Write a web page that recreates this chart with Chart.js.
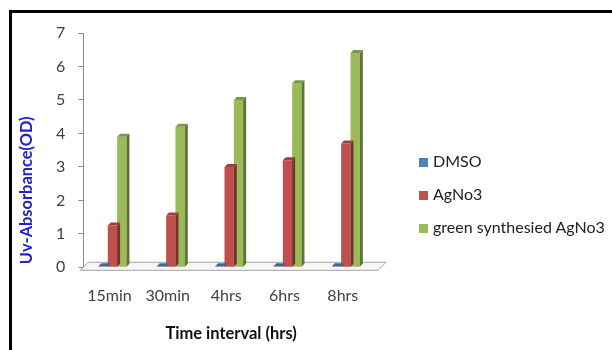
<!DOCTYPE html>
<html>
<head>
<meta charset="utf-8">
<script src="https://cdn.jsdelivr.net/npm/chart.js@4.4.1/dist/chart.umd.min.js"></script>
<style>
  html, body { margin: 0; padding: 0; background: #fff; }
  #wrap { position: relative; width: 612px; height: 350px; overflow: hidden; }
  #frame { position: absolute; left: 9px; top: 10px; width: 620px; height: 360px;
           border-left: 3px solid #000; border-top: 3px solid #000; pointer-events: none; }
  canvas { position: absolute; left: 0; top: 0; }
  #legend { position: absolute; left: 419px; top: 151px; margin: 0; padding: 0; list-style: none;
            font-family: Lato, "Open Sans", sans-serif; font-size: 16px; color: #222; }
  #legend li { height: 33px; line-height: 20px; white-space: nowrap; }
  #legend span.box { display: inline-block; width: 9px; height: 9px; margin-right: 5px;
                     vertical-align: 0px; }
</style>
</head>
<body>
<div id="wrap">
  <canvas id="c" width="612" height="350"></canvas>
  <ul id="legend"></ul>
  <div id="frame"></div>
</div>
<script>
// Absorbance readings per time interval
const categories = ['15min', '30min', '4hrs', '6hrs', '8hrs'];
const dmso = [0.03, 0.03, 0.03, 0.03, 0.03];
const agno3 = [1.25, 1.55, 3.0, 3.2, 3.7];
const greenAgno3 = [3.9, 4.2, 5.0, 5.5, 6.4];
const yTicks = [0, 1, 2, 3, 4, 5, 6, 7];

const FONT = 'Lato, "Open Sans", sans-serif';
const Y_TITLE = 'Uv-Absorbance(OD)';
const X_TITLE = 'Time interval (hrs)';

function shade(hex, f) {
  const n = parseInt(hex.slice(1), 16);
  let r = (n >> 16) & 255, g = (n >> 8) & 255, b = n & 255;
  if (f < 0) { r *= 1 + f; g *= 1 + f; b *= 1 + f; }
  else { r += (255 - r) * f; g += (255 - g) * f; b += (255 - b) * f; }
  return 'rgb(' + Math.round(r) + ',' + Math.round(g) + ',' + Math.round(b) + ')';
}

// Floor slab under the bars, drawn before the datasets
const floorPlugin = {
  id: 'floor',
  beforeDatasetsDraw(chart) {
    const { ctx, chartArea } = chart;
    const y0 = chart.scales.y.getPixelForValue(0) + 3;
    const l = chartArea.left - 3, r = chartArea.right + 3;
    const dx = 8, dy = -8;
    ctx.save();
    ctx.beginPath();
    ctx.moveTo(l, y0);
    ctx.lineTo(r, y0);
    ctx.lineTo(r + dx, y0 + dy);
    ctx.lineTo(l + dx, y0 + dy);
    ctx.closePath();
    ctx.fillStyle = '#f6f6f6';
    ctx.fill();
    ctx.strokeStyle = '#a6a6a6';
    ctx.lineWidth = 1;
    ctx.stroke();
    ctx.restore();
  }
};

// Side and top faces that give each bar its depth
const depthPlugin = {
  id: 'depth',
  afterDatasetsDraw(chart) {
    const { ctx } = chart;
    const dx = 3, dy = -3;
    chart.data.datasets.forEach((ds, i) => {
      const meta = chart.getDatasetMeta(i);
      if (meta.hidden) return;
      meta.data.forEach(bar => {
        const half = bar.width / 2;
        const x1 = bar.x - half, x2 = bar.x + half;
        const top = bar.y, base = bar.base;
        ctx.save();
        ctx.fillStyle = shade(ds.backgroundColor, -0.38);
        ctx.beginPath();
        ctx.moveTo(x2, base);
        ctx.lineTo(x2 + dx, base + dy);
        ctx.lineTo(x2 + dx, top + dy);
        ctx.lineTo(x2, top);
        ctx.closePath();
        ctx.fill();
        ctx.fillStyle = shade(ds.backgroundColor, -0.2);
        ctx.beginPath();
        ctx.moveTo(x1, top);
        ctx.lineTo(x2, top);
        ctx.lineTo(x2 + dx, top + dy);
        ctx.lineTo(x1 + dx, top + dy);
        ctx.closePath();
        ctx.fill();
        ctx.restore();
      });
    });
  }
};

// Axis titles: value title set low beside the axis, time title centred under the plot
const titlesPlugin = {
  id: 'axisTitles',
  afterDraw(chart) {
    const { ctx, chartArea } = chart;
    ctx.save();
    ctx.textAlign = 'center';
    ctx.textBaseline = 'middle';
    ctx.font = 'bold 16.5px ' + FONT;
    ctx.fillStyle = '#111';
    ctx.fillText(X_TITLE, (chartArea.left + chartArea.right) / 2 + 2, chartArea.bottom + 66);
    ctx.translate(27, chartArea.bottom - 77);
    ctx.rotate(-Math.PI / 2);
    ctx.font = 'bold 16.4px ' + FONT;
    ctx.fillStyle = '#2323c8';
    ctx.fillText(Y_TITLE, 0, 0);
    ctx.restore();
  }
};

const chart = new Chart(document.getElementById('c'), {
  type: 'bar',
  data: {
    labels: categories,
    datasets: [
      { label: 'DMSO', data: dmso, backgroundColor: '#4f81bd' },
      { label: 'AgNo3', data: agno3, backgroundColor: '#c0504d' },
      { label: 'green synthesied AgNo3', data: greenAgno3, backgroundColor: '#9bbb59' }
    ]
  },
  options: {
    responsive: false,
    animation: false,
    devicePixelRatio: 1,
    layout: { padding: { top: 33, right: 237, bottom: 25.5, left: 43 } },
    datasets: { bar: { categoryPercentage: 0.48, barPercentage: 1 } },
    plugins: {
      legend: { display: false },
      tooltip: { enabled: false }
    },
    scales: {
      x: {
        grid: { display: false, drawTicks: false },
        border: { display: false },
        ticks: { font: { family: FONT, size: 16 }, color: '#404040', padding: 19, labelOffset: -3 }
      },
      y: {
        min: 0, max: 7,
        afterBuildTicks(axis) { axis.ticks = yTicks.map(v => ({ value: v })); },
        grid: { drawOnChartArea: false, tickLength: 5, color: '#8c8c8c' },
        border: { color: '#8c8c8c' },
        ticks: { font: { family: FONT, size: 16 }, color: '#404040', padding: 13 }
      }
    }
  },
  plugins: [floorPlugin, depthPlugin, titlesPlugin]
});

// Series key built from the datasets
const legendEl = document.getElementById('legend');
chart.data.datasets.forEach(ds => {
  const li = document.createElement('li');
  const box = document.createElement('span');
  box.className = 'box';
  box.style.background = ds.backgroundColor;
  li.appendChild(box);
  li.appendChild(document.createTextNode(ds.label));
  legendEl.appendChild(li);
});
</script>
</body>
</html>
